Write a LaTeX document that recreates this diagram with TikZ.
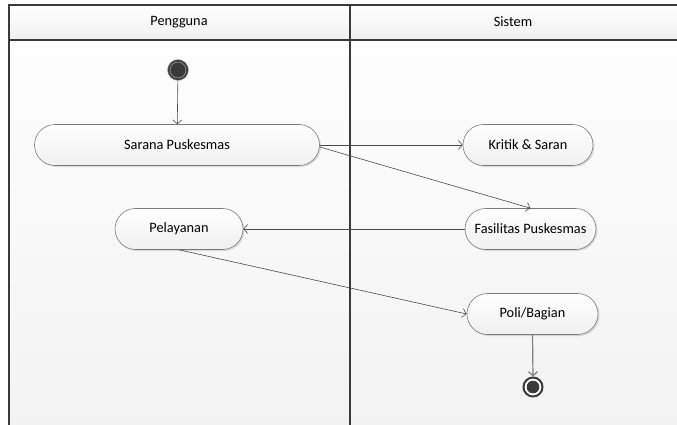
\documentclass[tikz,border=0pt]{standalone}
\usepackage{fontspec}
\setmainfont{Carlito}
\usetikzlibrary{shapes.misc,arrows.meta,shadows}
\definecolor{frame}{HTML}{3A3A3A}
\definecolor{conn}{HTML}{4A4A4A}
\definecolor{nodeb}{HTML}{7A7A7A}
\tikzset{
  act/.style={rounded rectangle, draw=nodeb, line width=0.6pt, top color=white, bottom color=gray!12,
    minimum height=41pt, inner sep=0pt, font=\fontsize{14.3}{16}\selectfont,
    drop shadow={shadow xshift=1.5pt,shadow yshift=-1.5pt,opacity=0.25}},
  flow/.style={draw=conn, line width=0.6pt, -{Straight Barb[length=4pt,width=9pt]}},
  hdr/.style={font=\fontsize{14.3}{16}\selectfont},
  lane/.style={draw=frame, line width=1.6pt}
}
\begin{document}
\begin{tikzpicture}[x=1pt,y=-1pt]
\useasboundingbox (0,0) rectangle (677,425);
% background
\shade[top color=white, bottom color=gray!10] (9,5) rectangle (677,425);
\shade[top color=white, bottom color=gray!12] (9,5) rectangle (677,40);
% lane lines
\draw[lane] (677,5) -- (9,5) -- (9,425);
\draw[lane] (9,40) -- (677,40);
\draw[lane] (350,5) -- (350,425);
\node[hdr] (h1) at (179,22) {Pengguna};
\node[hdr] (h2) at (513,22) {Sistem};
% start
\node[circle, fill=frame, draw=gray!60, line width=0.5pt, minimum size=21pt, inner sep=0pt] (start) at (178,70) {};
\draw[gray!55, line width=0.4pt] (start.center) circle (8pt);
% activities
\node[act, minimum width=285pt] (sarana) at (177,145) {Sarana Puskesmas};
\node[act, minimum width=130pt] (kritik) at (528,145) {Kritik \& Saran};
\node[act, minimum width=131pt] (fasil) at (530.5,229) {Fasilitas Puskesmas};
\node[act, minimum width=128pt] (pelay) at (179,229) {Pelayanan};
\node[act, minimum width=131pt] (poli) at (532.5,314) {Poli/Bagian};
% end
\node[circle, draw=frame, line width=2pt, fill=white, minimum size=19pt, inner sep=0pt] (end) at (533,387) {};
\fill[frame] (end.center) circle (6.3pt);
% connectors
\draw[flow] (start) -- (sarana);
\draw[flow] (sarana.east) -- (kritik.west);
\draw[flow] ([yshift=-2pt]sarana.east) -- (fasil.north);
\draw[flow] (fasil.west) -- (pelay.east);
\draw[flow] (pelay.south) -- (poli.west);
\draw[flow, line width=1.2pt, draw=gray] (poli.south) -- (end.north);
\end{tikzpicture}
\end{document}
